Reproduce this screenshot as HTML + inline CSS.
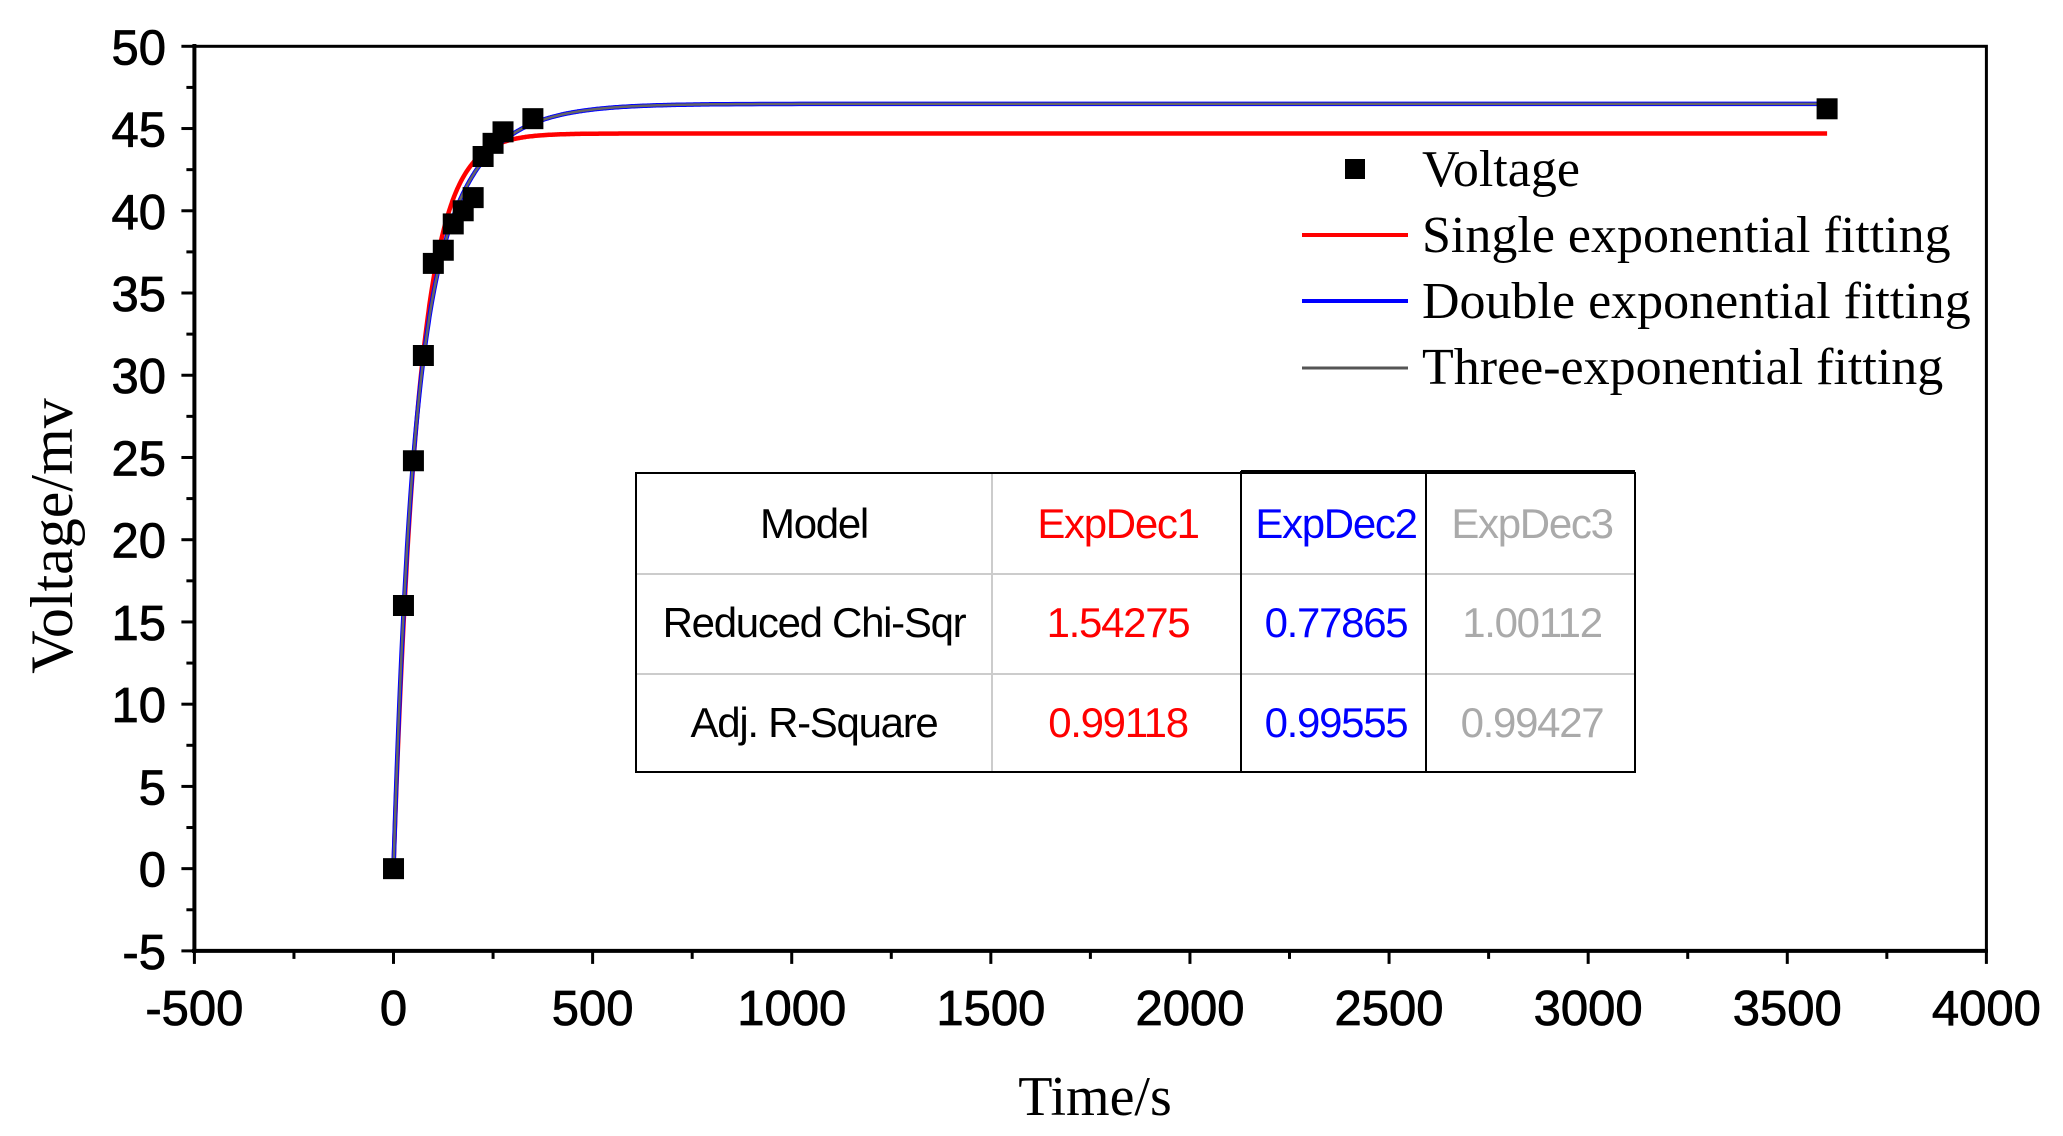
<!DOCTYPE html>
<html><head><meta charset="utf-8"><style>
html,body{margin:0;padding:0;background:#fff;}
svg{display:block;}
</style></head><body>
<svg id="s" width="2063" height="1136" xmlns="http://www.w3.org/2000/svg">
<rect width="2063" height="1136" fill="#fff"/>
<g id="curves"></g>
<g id="pts"></g>
<rect x="194.4" y="46.3" width="1792" height="904.6" fill="none" stroke="#000" stroke-width="3"/>
<line x1="194.4" y1="44" x2="194.4" y2="953" stroke="#000" stroke-width="4"/>
<line x1="192" y1="950.9" x2="1988" y2="950.9" stroke="#000" stroke-width="4"/>
<g id="ticks" stroke="#000" stroke-width="3"></g>
<g id="lab" font-family="Liberation Sans, Arial, sans-serif" font-size="49" fill="#000" stroke="#000" stroke-width="0.8"></g>
<text x="1095" y="1115" font-family="Liberation Serif, serif" font-size="56" text-anchor="middle">Time/s</text>
<text transform="translate(72,536) rotate(-90)" font-family="Liberation Serif, serif" font-size="60" text-anchor="middle">Voltage/mv</text>
<!-- legend -->
<rect x="1345" y="159" width="20" height="20" fill="#000"/>
<g font-family="Liberation Serif, serif" font-size="52" fill="#000">
<text x="1422" y="186">Voltage</text>
<text x="1422" y="252">Single exponential fitting</text>
<text x="1422" y="318">Double exponential fitting</text>
<text x="1422" y="384">Three-exponential fitting</text>
</g>
<line x1="1302" y1="235" x2="1408" y2="235" stroke="#f00" stroke-width="4"/>
<line x1="1302" y1="301" x2="1408" y2="301" stroke="#00f" stroke-width="4"/>
<line x1="1302" y1="368" x2="1408" y2="368" stroke="#555" stroke-width="3"/>
<!-- table -->
<rect x="636" y="473" width="999" height="299" fill="#fff"/>
<g stroke="#ccc" stroke-width="2">
<line x1="636" y1="574" x2="1635" y2="574"/>
<line x1="636" y1="674" x2="1635" y2="674"/>
<line x1="992" y1="473" x2="992" y2="772"/>
</g>
<g stroke="#000" stroke-width="2" fill="none">
<rect x="636" y="473" width="999" height="299"/>
<line x1="1241" y1="471" x2="1241" y2="772"/>
<line x1="1426" y1="471" x2="1426" y2="772"/>
<line x1="1241" y1="471" x2="1635" y2="471"/>
</g>
<g font-family="Liberation Sans, Arial, sans-serif" font-size="42" letter-spacing="-1.3" text-anchor="middle">
<text x="814" y="538" fill="#000">Model</text>
<text x="1118" y="538" fill="#f00">ExpDec1</text>
<text x="1336" y="538" fill="#00f">ExpDec2</text>
<text x="1532" y="538" fill="#aaa">ExpDec3</text>
<text x="814" y="637" fill="#000">Reduced Chi-Sqr</text>
<text x="1118" y="637" fill="#f00">1.54275</text>
<text x="1336" y="637" fill="#00f">0.77865</text>
<text x="1532" y="637" fill="#aaa">1.00112</text>
<text x="814" y="737" fill="#000">Adj. R-Square</text>
<text x="1118" y="737" fill="#f00">0.99118</text>
<text x="1336" y="737" fill="#00f">0.99555</text>
<text x="1532" y="737" fill="#aaa">0.99427</text>
</g>
</svg>
<script>
var NS="http://www.w3.org/2000/svg";
function X(t){return 194.4+(t+500)*0.39822;}
function Y(v){return 46.3+(50-v)*16.447;}
function el(p,n,a){var e=document.createElementNS(NS,n);for(var k in a)e.setAttribute(k,a[k]);p.appendChild(e);return e;}
var tk=document.getElementById('ticks'),lab=document.getElementById('lab');
for(var t=-500;t<=4000;t+=250){var maj=t%500==0;el(tk,'line',{x1:X(t),y1:950.9,x2:X(t),y2:950.9+(maj?13:8)});
 if(maj){var tx=el(lab,'text',{x:X(t),y:1025,'text-anchor':'middle'});tx.textContent=t;}}
for(var v=-5;v<=50;v+=2.5){var maj=v%5==0;el(tk,'line',{x1:194.4,y1:Y(v),x2:194.4-(maj?13:8),y2:Y(v)});
 if(maj){var tx=el(lab,'text',{x:166,y:Y(v)+18,'text-anchor':'end'});tx.textContent=v;}}
var cv=document.getElementById('curves');
function path(f,col,w){var d='';for(var t=0;t<=3600;t+=(t<800?2:20)){d+=(t?'L':'M')+X(t).toFixed(1)+','+Y(f(t)).toFixed(1);}el(cv,'path',{d:d,fill:'none',stroke:col,'stroke-width':w});}
path(function(t){return 44.7*(1-Math.exp(-t/62));},'#f00',4.5);
path(function(t){return 46.5-24.5*Math.exp(-t/40)-22*Math.exp(-t/120);},'#00f',4.5);
path(function(t){return 46.5-24.5*Math.exp(-t/40)-22*Math.exp(-t/120);},'#666',2.5);
var data=[[0,0],[25,16],[50,24.8],[75,31.2],[100,36.8],[125,37.6],[150,39.2],[175,40],[200,40.8],[225,43.3],[250,44.1],[275,44.8],[350,45.6],[3600,46.2]];
var pg=document.getElementById('pts');
data.forEach(function(p){el(pg,'rect',{x:X(p[0])-10.5,y:Y(p[1])-10.5,width:21,height:21,fill:'#000'});});
</script>
</body></html>
